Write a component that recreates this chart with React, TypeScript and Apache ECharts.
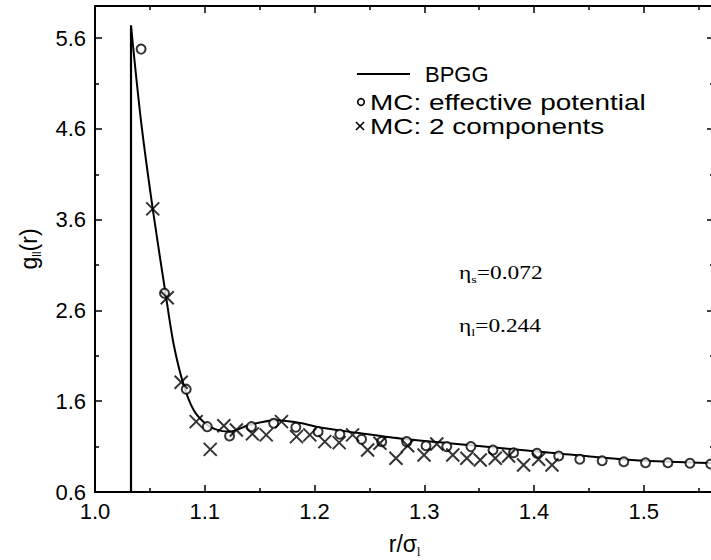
import React, { useEffect, useRef } from "react";
import * as echarts from "echarts";

// Axis ticks
const xMajor = [1.0, 1.1, 1.2, 1.3, 1.4, 1.5];
const xMinor = [1.05, 1.15, 1.25, 1.35, 1.45, 1.55];
const yMajor = [0.6, 1.6, 2.6, 3.6, 4.6, 5.6];
const yMinor = [1.1, 2.1, 3.1, 4.1, 5.1];

// BPGG theory curve (first two points form the hard-core wall)
const bpggR = [1.0328, 1.0328, 1.042, 1.0526, 1.0645, 1.0718, 1.081, 1.09, 1.1, 1.11, 1.1227, 1.141, 1.165, 1.187, 1.205, 1.24, 1.278, 1.32, 1.369, 1.4225, 1.46, 1.5, 1.562, 1.575];
const bpggG = [0.6, 5.74, 4.68, 3.72, 2.77, 2.22, 1.77, 1.5, 1.36, 1.29, 1.265, 1.34, 1.39, 1.36, 1.31, 1.25, 1.19, 1.14, 1.085, 1.025, 0.98, 0.945, 0.92, 0.916];

// MC: effective potential (circles)
const effR = [1.042, 1.0633, 1.0831, 1.1023, 1.1226, 1.1425, 1.1628, 1.183, 1.2033, 1.2231, 1.2429, 1.2612, 1.284, 1.3016, 1.3205, 1.3425, 1.3626, 1.3814, 1.4027, 1.4225, 1.4417, 1.4621, 1.4818, 1.5016, 1.522, 1.5421, 1.561];
const effG = [5.48, 2.79, 1.733, 1.32, 1.218, 1.32, 1.358, 1.314, 1.265, 1.236, 1.181, 1.155, 1.155, 1.11, 1.1, 1.1, 1.063, 1.033, 1.027, 0.997, 0.961, 0.945, 0.934, 0.923, 0.923, 0.917, 0.909];

// MC: 2 components (crosses)
const twoR = [1.0526, 1.0658, 1.0785, 1.0922, 1.105, 1.1174, 1.1288, 1.1434, 1.156, 1.1699, 1.1836, 1.1957, 1.2094, 1.2225, 1.2347, 1.2484, 1.2596, 1.2742, 1.2849, 1.2998, 1.3114, 1.326, 1.3388, 1.351, 1.3647, 1.3768, 1.3905, 1.4042, 1.4164];
const twoG = [3.72, 2.74, 1.81, 1.375, 1.07, 1.33, 1.284, 1.24, 1.229, 1.375, 1.21, 1.229, 1.155, 1.144, 1.229, 1.063, 1.137, 0.972, 1.11, 1.008, 1.129, 1.008, 0.972, 0.953, 0.972, 0.997, 0.898, 0.961, 0.898];

const legendLabels = ["BPGG", "MC: effective potential", "MC: 2 components"];

const SANS = "'Liberation Sans', Arial, Helvetica, sans-serif";
const SERIF = "'Liberation Serif', 'Times New Roman', serif";

const pairs = (xs: number[], ys: number[]) => xs.map((x, i) => [x, ys[i]]);

const X_MIN = 1.0;
const X_MAX = 1.564;
const Y_MIN = 0.6;
const Y_MAX = 5.955;

function buildOption(): any {
  const bpgg = pairs(bpggR, bpggG);
  const axisLineStyle = { color: "#000", width: 2 };
  const tickLine = { color: "#000", width: 1.5 };
  const xBase = { type: "value", min: X_MIN, max: X_MAX, splitLine: { show: false } };
  const yBase = { type: "value", min: Y_MIN, max: Y_MAX, splitLine: { show: false } };
  return {
    animation: false,
    backgroundColor: "#fff",
    grid: { left: 95, right: -3, top: 6, bottom: 68, containLabel: false, outerBoundsMode: "none" },
    xAxis: [
      {
        ...xBase,
        position: "bottom",
        axisLine: { show: true, lineStyle: axisLineStyle },
        axisTick: { show: true, inside: true, length: 7, customValues: xMajor, lineStyle: tickLine },
        axisLabel: {
          show: true,
          customValues: xMajor,
          formatter: (v: number) => v.toFixed(1),
          fontSize: 22,
          fontFamily: SANS,
          color: "#000",
          margin: 8,
        },
        name: "{a|r/σ}{b|l}",
        nameLocation: "middle",
        nameGap: 38,
        nameTextStyle: {
          rich: {
            a: { fontSize: 23, fontFamily: SANS, color: "#000", lineHeight: 28 },
            b: { fontSize: 12, fontFamily: SERIF, color: "#000", lineHeight: 10, verticalAlign: "bottom" },
          },
        },
      },
      {
        ...xBase,
        position: "bottom",
        axisLine: { show: false },
        axisTick: { show: true, inside: true, length: 4, customValues: xMinor, lineStyle: tickLine },
        axisLabel: { show: false },
      },
      {
        ...xBase,
        position: "top",
        axisLine: { show: true, lineStyle: axisLineStyle },
        axisTick: { show: true, inside: true, length: 7, customValues: xMajor, lineStyle: tickLine },
        axisLabel: { show: false },
      },
      {
        ...xBase,
        position: "top",
        axisLine: { show: false },
        axisTick: { show: true, inside: true, length: 4, customValues: xMinor, lineStyle: tickLine },
        axisLabel: { show: false },
      },
    ],
    yAxis: [
      {
        ...yBase,
        position: "left",
        axisLine: { show: true, lineStyle: axisLineStyle },
        axisTick: { show: true, inside: true, length: 7, customValues: yMajor, lineStyle: tickLine },
        axisLabel: {
          show: true,
          customValues: yMajor,
          formatter: (v: number) => v.toFixed(1),
          fontSize: 22,
          fontFamily: SANS,
          color: "#000",
          margin: 9,
        },
        name: "{a|g}{b|ll}{a|(r)}",
        nameLocation: "middle",
        nameGap: 52,
        nameTextStyle: {
          rich: {
            a: { fontSize: 23, fontFamily: SANS, color: "#000", lineHeight: 28 },
            b: { fontSize: 12, fontFamily: SANS, color: "#000", lineHeight: 10, verticalAlign: "bottom" },
          },
        },
      },
      {
        ...yBase,
        position: "left",
        axisLine: { show: false },
        axisTick: { show: true, inside: true, length: 4, customValues: yMinor, lineStyle: tickLine },
        axisLabel: { show: false },
      },
      {
        ...yBase,
        position: "right",
        axisLine: { show: true, lineStyle: axisLineStyle },
        axisTick: { show: true, inside: true, length: 7, customValues: yMajor, lineStyle: tickLine },
        axisLabel: { show: false },
      },
      {
        ...yBase,
        position: "right",
        axisLine: { show: false },
        axisTick: { show: true, inside: true, length: 4, customValues: yMinor, lineStyle: tickLine },
        axisLabel: { show: false },
      },
    ],
    series: [
      {
        name: legendLabels[0] + " wall",
        type: "line",
        data: bpgg.slice(0, 2),
        showSymbol: false,
        lineStyle: { color: "#000", width: 2.2 },
        z: 2,
      },
      {
        name: legendLabels[0],
        type: "line",
        data: bpgg.slice(1),
        showSymbol: false,
        smooth: 0.3,
        lineStyle: { color: "#000", width: 2 },
        z: 2,
      },
      {
        name: legendLabels[1],
        type: "scatter",
        data: pairs(effR, effG),
        symbol: "emptyCircle",
        symbolSize: 9,
        itemStyle: { color: "#000", borderColor: "#000", borderWidth: 1.8 },
        z: 3,
      },
      {
        name: legendLabels[2],
        type: "scatter",
        data: pairs(twoR, twoG),
        symbol: "path://M0 0L10 10M10 0L0 10",
        symbolSize: 13,
        itemStyle: { color: "transparent", borderColor: "#000", borderWidth: 2 },
        z: 4,
      },
    ],
    graphic: [
      { type: "line", shape: { x1: 357, y1: 74, x2: 410, y2: 74 }, style: { stroke: "#000", lineWidth: 2 } },
      {
        type: "text",
        x: 425,
        y: 74,
        style: { text: legendLabels[0], font: `22px ${SANS}`, fill: "#000", verticalAlign: "middle" },
      },
      { type: "circle", shape: { cx: 361, cy: 102, r: 3.3 }, style: { fill: "#fff", stroke: "#000", lineWidth: 1.6 } },
      {
        type: "text",
        x: 370,
        y: 102,
        scaleX: 1.27,
        style: { text: legendLabels[1], font: `22px ${SANS}`, fill: "#000", verticalAlign: "middle" },
      },
      { type: "line", shape: { x1: 356, y1: 122, x2: 364, y2: 130 }, style: { stroke: "#000", lineWidth: 1.6 } },
      { type: "line", shape: { x1: 364, y1: 122, x2: 356, y2: 130 }, style: { stroke: "#000", lineWidth: 1.6 } },
      {
        type: "text",
        x: 370,
        y: 126,
        scaleX: 1.27,
        style: { text: legendLabels[2], font: `22px ${SANS}`, fill: "#000", verticalAlign: "middle" },
      },
      {
        type: "text",
        x: 459,
        y: 273,
        scaleX: 1.3,
        style: {
          text: "{m|η}{s|s}{m|=0.072}",
          verticalAlign: "middle",
          fill: "#000",
          rich: {
            m: { fontSize: 18, fontFamily: SERIF, fill: "#000", lineHeight: 24 },
            s: { fontSize: 11, fontFamily: SERIF, fill: "#000", lineHeight: 10, verticalAlign: "bottom" },
          },
        },
      },
      {
        type: "text",
        x: 459,
        y: 326,
        scaleX: 1.3,
        style: {
          text: "{m|η}{s|l}{m|=0.244}",
          verticalAlign: "middle",
          fill: "#000",
          rich: {
            m: { fontSize: 18, fontFamily: SERIF, fill: "#000", lineHeight: 24 },
            s: { fontSize: 11, fontFamily: SERIF, fill: "#000", lineHeight: 10, verticalAlign: "bottom" },
          },
        },
      },
    ],
  };
}

export default function App() {
  const ref = useRef<HTMLDivElement>(null);
  useEffect(() => {
    if (!ref.current) return;
    const chart = echarts.init(ref.current, null, { renderer: "svg" });
    chart.setOption(buildOption());
    return () => chart.dispose();
  }, []);
  return (
    <div
      ref={ref}
      style={{ position: "fixed", left: 0, top: 0, width: 711, height: 560, background: "#fff" }}
    />
  );
}
